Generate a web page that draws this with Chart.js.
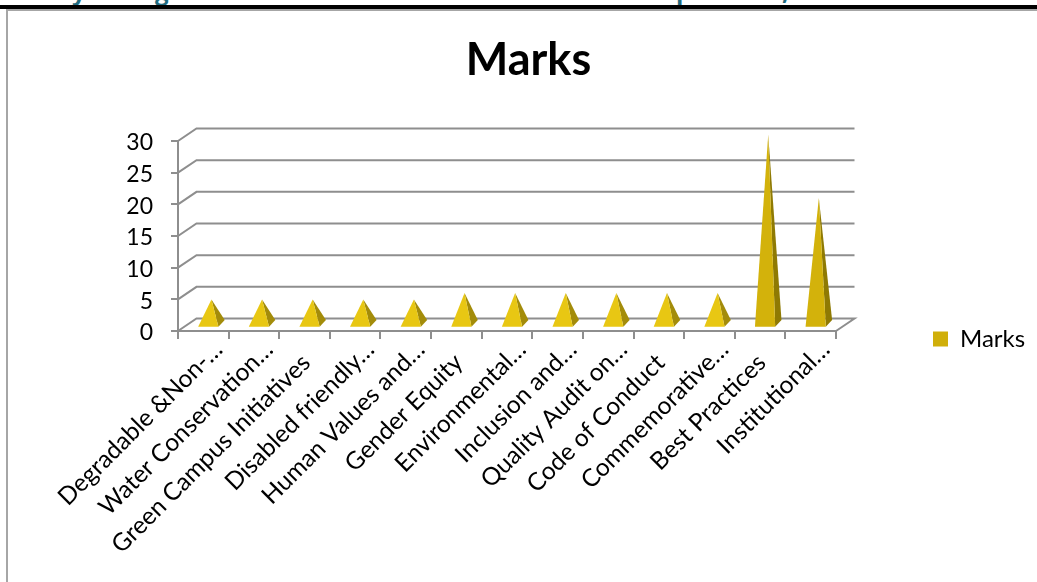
<!DOCTYPE html>
<html>
<head>
<meta charset="utf-8">
<style>
  html, body { margin: 0; padding: 0; background: #fff; overflow: hidden; }
  #page { position: relative; width: 1037px; height: 582px; overflow: hidden; background: #fff; }
  .rule { position: absolute; left: 0; top: 5px; width: 1037px; height: 4px; background: #000; }
  .frameTop { position: absolute; left: 6px; top: 9px; width: 1031px; height: 2px; background: #a6a6a6; }
  .frameLeft { position: absolute; left: 6px; top: 9px; width: 2px; height: 573px; background: #a6a6a6; }
  .heading { position: absolute; top: -24px; font: bold 24px "Open Sans", sans-serif; color: #1f6b7f; line-height: 30px; }
  canvas { position: absolute; left: 0; top: 0; }
</style>
</head>
<body>
<div id="page">
  <span class="heading" style="left:72px">y</span>
  <span class="heading" style="left:155px">g</span>
  <span class="heading" style="left:676px">p</span>
  <span class="heading" style="left:782px">,</span>
  <div class="rule"></div>
  <div class="frameTop"></div>
  <div class="frameLeft"></div>
  <canvas id="chart" width="1037" height="582"></canvas>
</div>
<script src="https://cdn.jsdelivr.net/npm/chart.js@4/dist/chart.umd.min.js"></script>
<script>
const chartTitle = "Marks";
const seriesName = "Marks";
const categories = [
  "Degradable &Non-…", "Water Conservation…", "Green Campus Initiatives",
  "Disabled friendly…", "Human Values and…", "Gender Equity",
  "Environmental…", "Inclusion and…", "Quality Audit on…",
  "Code of Conduct", "Commemorative…", "Best Practices", "Institutional…"
];
const marks = [4, 4, 4, 4, 4, 5, 5, 5, 5, 5, 5, 30, 20];
const yTicks = [0, 5, 10, 15, 20, 25, 30];

const FONT = "Lato, sans-serif";
const GRID = "#8e8e8e";
const DEPTH_X = 18.5, DEPTH_Y = 12.5;

// Floor, back wall and the slanted lines joining them to the front of the box.
function drawWalls(chart) {
  const { ctx, chartArea: a, scales: { y } } = chart;
  ctx.save();
  ctx.strokeStyle = GRID;
  ctx.lineWidth = 2;
  for (const v of yTicks) {
    const py = y.getPixelForValue(v);
    ctx.beginPath();
    ctx.moveTo(a.left, py);
    ctx.lineTo(a.left + DEPTH_X, py - DEPTH_Y);
    ctx.lineTo(a.right + DEPTH_X, py - DEPTH_Y);
    if (v === 0) ctx.lineTo(a.right, py);
    ctx.stroke();
  }
  ctx.restore();
}

// Each bar becomes a four-sided pyramid: a lit front face and a dark right face.
function drawPyramids(chart) {
  const { ctx } = chart;
  const meta = chart.getDatasetMeta(0);
  ctx.save();
  meta.data.forEach((bar, i) => {
    const half = bar.width / 2;
    const frontX = bar.x + 0.27 * DEPTH_X, frontY = bar.base - 0.27 * DEPTH_Y;
    const backX = bar.x + 0.61 * DEPTH_X, backY = bar.base - 0.8 * DEPTH_Y;
    const apexX = bar.x + 0.44 * DEPTH_X, apexY = bar.y - 0.5 * DEPTH_Y;
    const tall = marks[i] > 5;
    ctx.fillStyle = tall ? "#8f7a03" : "#a38c0a";
    ctx.beginPath();
    ctx.moveTo(frontX + half, frontY);
    ctx.lineTo(backX + half, backY);
    ctx.lineTo(apexX, apexY);
    ctx.closePath();
    ctx.fill();
    ctx.fillStyle = tall ? "#d3b20b" : "#e8c713";
    ctx.beginPath();
    ctx.moveTo(frontX - half, frontY);
    ctx.lineTo(frontX + half, frontY);
    ctx.lineTo(apexX, apexY);
    ctx.closePath();
    ctx.fill();
  });
  ctx.restore();
}

const pyramidBox = {
  id: "pyramidBox",
  beforeLayout(chart) {
    // The legend keeps a fixed column so the plot stays put.
    const lg = chart.legend;
    if (!lg._fixedFit) {
      const fit = lg.fit;
      lg.fit = function () { fit.call(this); this.width = 201; };
      lg._fixedFit = true;
    }
  },
  afterLayout(chart) {
    const lg = chart.legend;
    lg.left = 933; lg.right = 1037;
    lg.top = 327; lg.bottom = 372;
  },
  beforeDatasetsDraw(chart) { drawWalls(chart); },
  beforeDatasetDraw(chart) { drawPyramids(chart); return false; }
};

new Chart(document.getElementById("chart"), {
  type: "bar",
  data: {
    labels: categories,
    datasets: [{
      label: seriesName,
      data: marks,
      backgroundColor: "#d0af0a",
      barPercentage: 0.4,
      categoryPercentage: 1
    }]
  },
  plugins: [pyramidBox],
  options: {
    responsive: false,
    animation: false,
    layout: { padding: { left: 20, top: 11, right: 0, bottom: 0 } },
    plugins: {
      tooltip: { enabled: false },
      title: {
        display: true,
        text: chartTitle,
        color: "#000",
        font: { family: FONT, size: 45, weight: "bold", lineHeight: 1.2 },
        padding: { top: 22, bottom: 54 }
      },
      legend: {
        position: "right",
        align: "start",
        labels: {
          boxWidth: 15,
          boxHeight: 15,
          padding: 0,
          color: "#000",
          font: { family: FONT, size: 24 }
        }
      }
    },
    scales: {
      x: {
        afterFit(s) { s.height = 251; },
        grid: { color: GRID, lineWidth: 2, drawOnChartArea: false, tickLength: 8, tickColor: GRID },
        border: { color: GRID, width: 2 },
        ticks: {
          autoSkip: false, minRotation: 45, maxRotation: 45,
          labelOffset: 15, padding: -4,
          // Untruncated names sit a little further back along the slant than truncated ones.
          callback(value, index) {
            const name = categories[index];
            return name.endsWith("…") ? name : name + "\u00a0\u00a0\u00a0";
          },
          color: "#000", font: { family: FONT, size: 24.5 }
        }
      },
      y: {
        min: 0, max: 30,
        afterFit(s) { s.width = 158; },
        grid: { color: GRID, lineWidth: 2, drawOnChartArea: false, tickLength: 7, tickColor: GRID },
        border: { color: GRID, width: 2 },
        ticks: {
          stepSize: 5, padding: 18, labelOffset: 2,
          color: "#000", font: { family: FONT, size: 23 }
        }
      }
    }
  }
});
</script>
</body>
</html>
